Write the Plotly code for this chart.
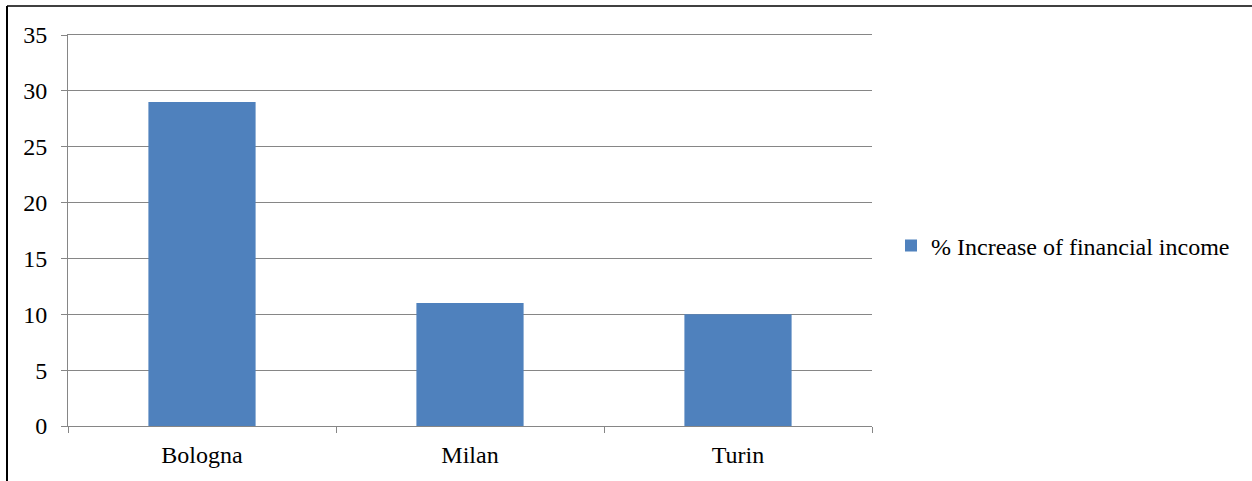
import plotly.graph_objects as go

categories = ["Bologna", "Milan", "Turin"]
values = [29, 11, 10]
series_name = "% Increase of financial income"
y_ticks = [0, 5, 10, 15, 20, 25, 30, 35]

W, H = 1252, 481
L, R, T, B = 68, 872, 35, 426
FONT = dict(family="Liberation Serif, Times New Roman, serif", size=24, color="#000000")
GRID = "#868686"

fig = go.Figure()
fig.add_trace(go.Bar(
    x=categories, y=values, name=series_name,
    marker=dict(color="#4F81BD", line=dict(width=0)),
    showlegend=True,
))

pw, ph = R - L, B - T
def px_x(x):
    return (x - L) / pw
def px_y(y):
    return (B - y) / ph

fig.update_layout(
    width=W, height=H,
    margin=dict(l=L, r=W - R, t=T, b=H - B, pad=0),
    paper_bgcolor="white", plot_bgcolor="white",
    font=FONT,
    bargap=0.6,
    showlegend=True,
    legend=dict(
        x=px_x(891), y=px_y(246), xanchor="left", yanchor="middle",
        font=FONT,
        itemsizing="constant", bgcolor="rgba(0,0,0,0)",
    ),
    xaxis=dict(
        type="category", tickson="boundaries", ticks="outside", ticklen=6,
        tickcolor=GRID, tickwidth=1, showline=True, linecolor=GRID, linewidth=1,
        mirror=True,
        showgrid=False, zeroline=False, tickfont=FONT, ticklabelstandoff=7,
    ),
    yaxis=dict(
        range=[0, 35], tickvals=y_ticks, ticks="outside", ticklen=6,
        tickcolor=GRID, tickwidth=1, showline=True, linecolor=GRID, linewidth=1,
        showgrid=True, gridcolor=GRID, gridwidth=1, zeroline=False,
        tickfont=FONT, ticklabelstandoff=9,
    ),
    shapes=[
        dict(type="line", xref="paper", yref="paper",
             x0=px_x(7), x1=px_x(W + 2), y0=px_y(6), y1=px_y(6),
             line=dict(color="#000", width=1.5)),
        dict(type="line", xref="paper", yref="paper",
             x0=px_x(7), x1=px_x(7), y0=px_y(6), y1=px_y(H + 2),
             line=dict(color="#000", width=2)),
    ],
)

fig.write_html("out.html")
